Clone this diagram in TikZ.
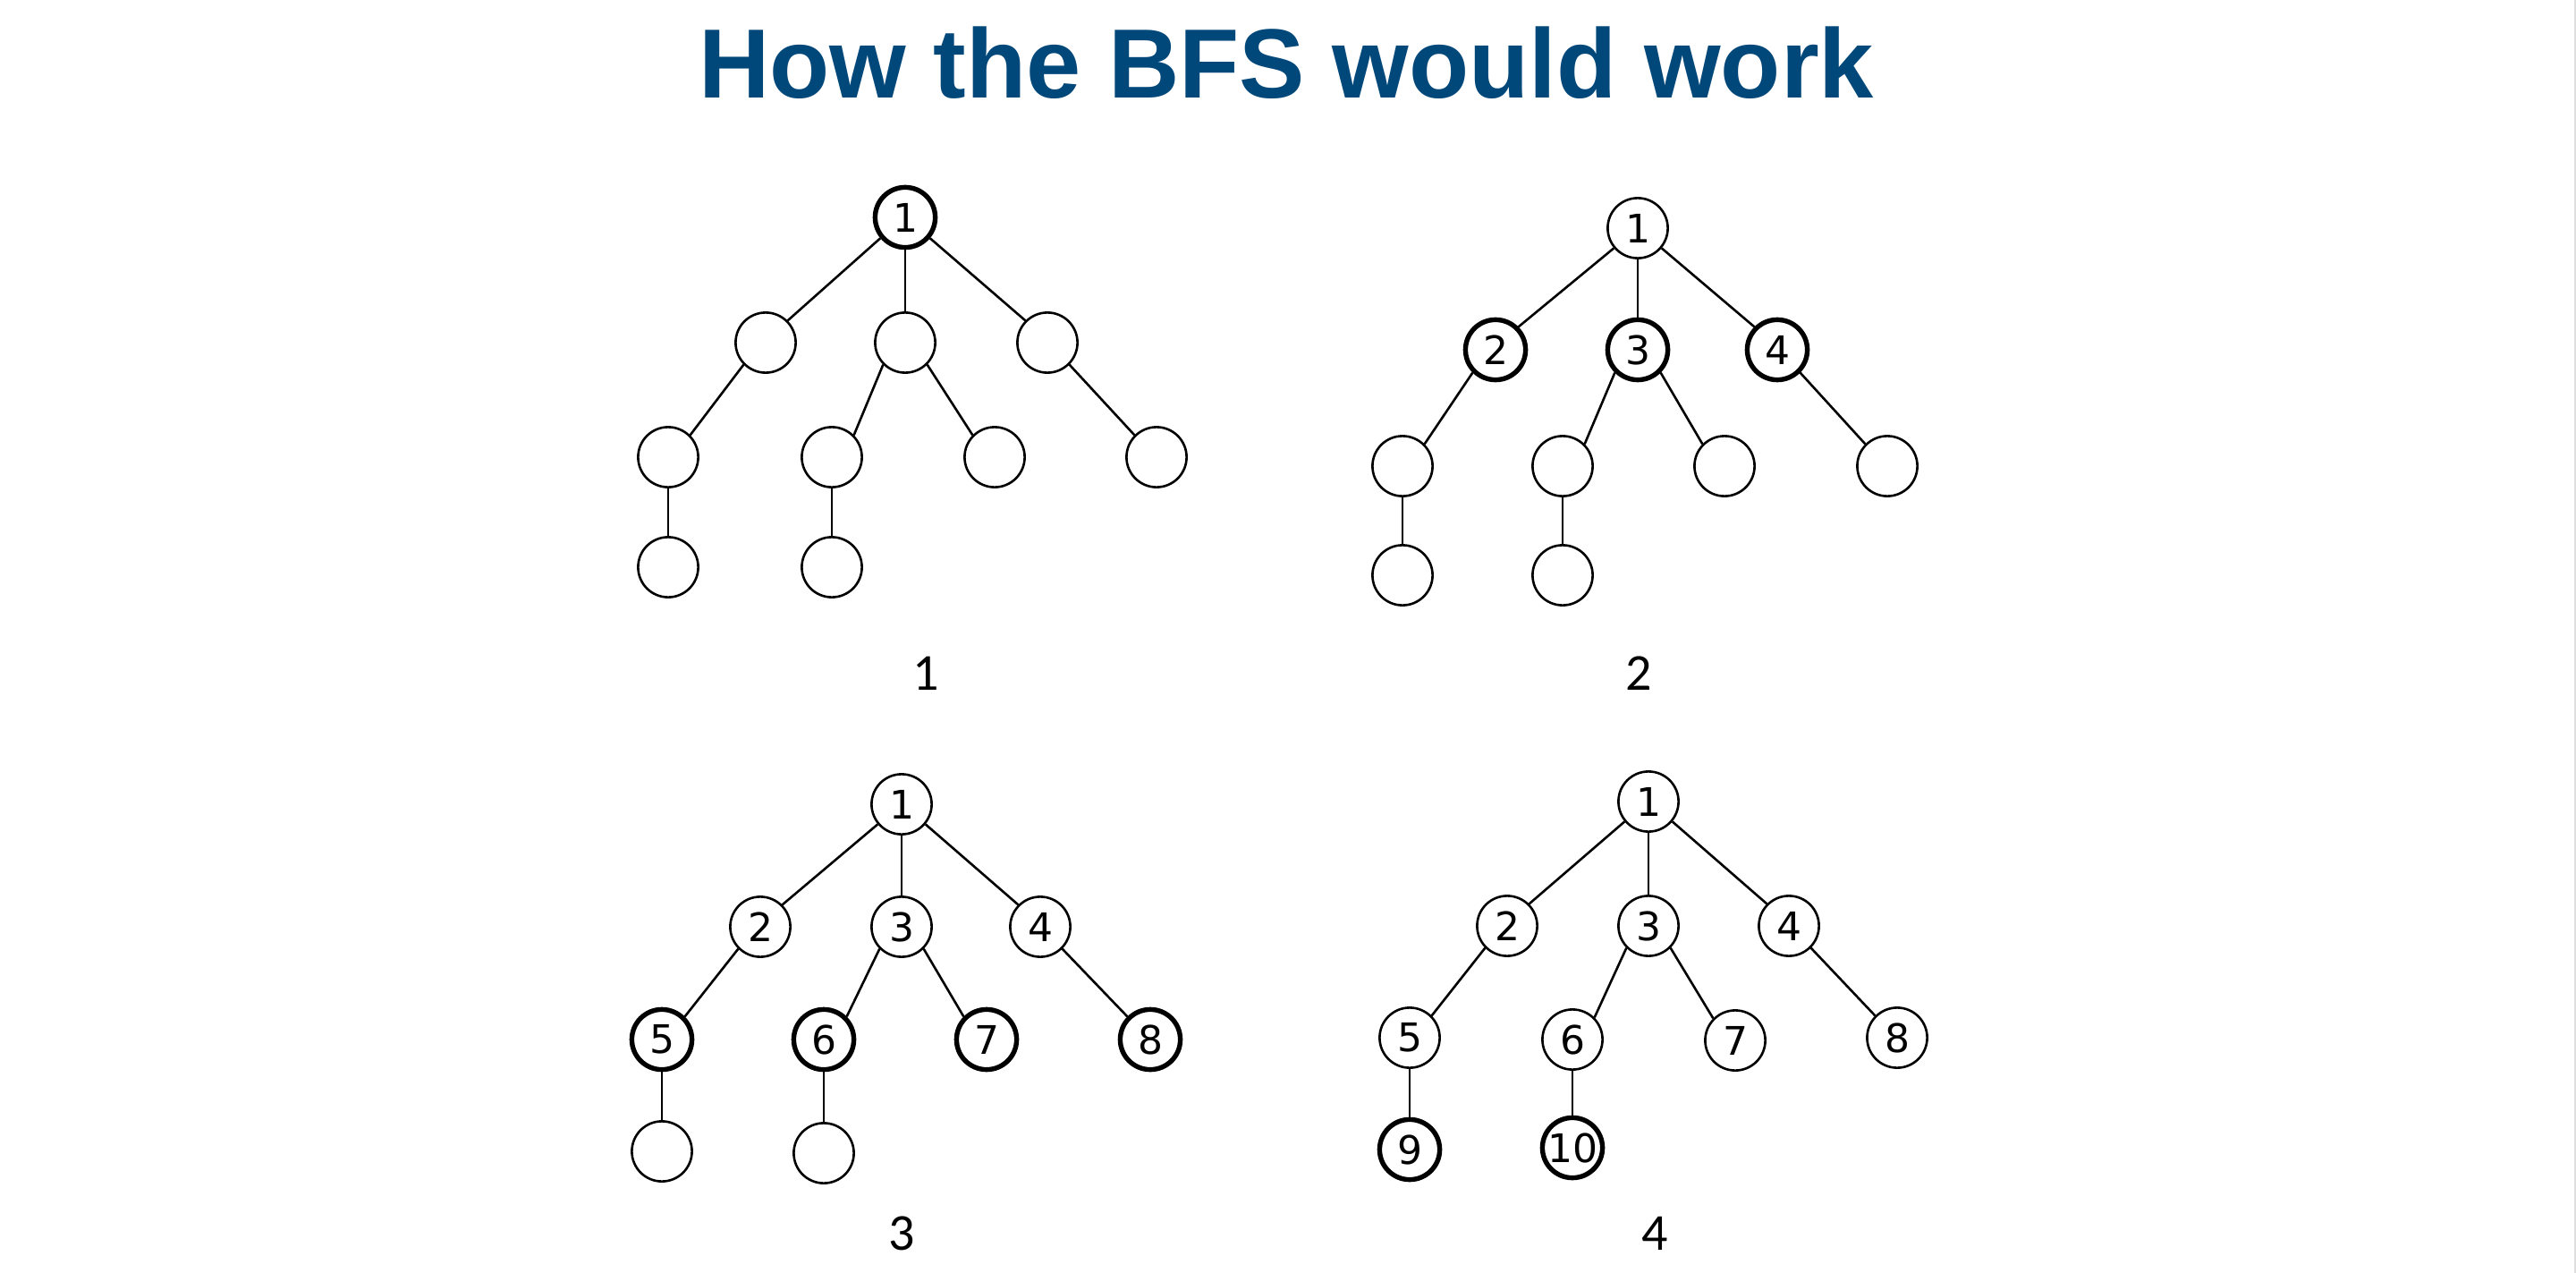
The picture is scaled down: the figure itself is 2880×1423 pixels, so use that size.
\documentclass[tikz,border=0pt]{standalone}
\usepackage{fontspec}
\newfontfamily\titlefont{Liberation Sans}
\newfontfamily\nodefont{DejaVu Sans}
\newfontfamily\capfont{Carlito}
\definecolor{titleblue}{RGB}{0,71,122}
\begin{document}
\begin{tikzpicture}[x=0.25pt,y=-0.25pt,
  vtx/.style={circle,draw,line width=0.65pt,minimum size=16.8pt,inner sep=0pt,
    font=\nodefont\fontsize{11}{13}\selectfont},
  seen/.style={vtx,line width=1.35pt},
  edge/.style={line width=0.65pt},
  caption/.style={font=\capfont\fontsize{14.5}{17}\selectfont}]
\useasboundingbox (0,0) rectangle (2880,1423);
\fill[white] (0,0) rectangle (2880,1423);
\draw[gray!25,line width=0.5pt] (2879,0) -- (2879,1423);

\node[anchor=base,text=titleblue,font=\titlefont\bfseries\fontsize{27.5}{33}\selectfont] (title) at (1438,110) {How the BFS would work};

% Tree 1
\node[seen] (A1) at (1012,243) {1};
\node[vtx] (A2) at (856,383) {};
\node[vtx] (A3) at (1012,383) {};
\node[vtx] (A4) at (1171,383) {};
\node[vtx] (A5) at (747,511) {};
\node[vtx] (A6) at (930,511) {};
\node[vtx] (A7) at (1112,511) {};
\node[vtx] (A8) at (1293,511) {};
\node[vtx] (A9) at (747,634) {};
\node[vtx] (A10) at (930,634) {};

% Tree 2
\node[vtx] (B1) at (1831,255) {1};
\node[seen] (B2) at (1672,391) {2};
\node[seen] (B3) at (1831,391) {3};
\node[seen] (B4) at (1987,391) {4};
\node[vtx] (B5) at (1568,521) {};
\node[vtx] (B6) at (1747,521) {};
\node[vtx] (B7) at (1928,521) {};
\node[vtx] (B8) at (2110,521) {};
\node[vtx] (B9) at (1568,643) {};
\node[vtx] (B10) at (1747,643) {};

% Tree 3
\node[vtx] (C1) at (1008,899) {1};
\node[vtx] (C2) at (850,1036) {2};
\node[vtx] (C3) at (1008,1036) {3};
\node[vtx] (C4) at (1163,1036) {4};
\node[seen] (C5) at (740,1162) {5};
\node[seen] (C6) at (921,1162) {6};
\node[seen] (C7) at (1103,1162) {7};
\node[seen] (C8) at (1286,1162) {8};
\node[vtx] (C9) at (740,1287) {};
\node[vtx] (C10) at (921,1289) {};

% Tree 4
\node[vtx] (D1) at (1843,896) {1};
\node[vtx] (D2) at (1685,1035) {2};
\node[vtx] (D3) at (1843,1035) {3};
\node[vtx] (D4) at (2000,1035) {4};
\node[vtx] (D5) at (1576,1160) {5};
\node[vtx] (D6) at (1758,1162) {6};
\node[vtx] (D7) at (1940,1163) {7};
\node[vtx] (D8) at (2121,1160) {8};
\node[seen] (D9) at (1576,1285) {9};
\node[seen] (D10) at (1758,1283) {10};

\foreach \t in {A,B,C,D}{
  \foreach \u/\a/\v/\b in {1/220/2/45,1/270/3/90,1/320/4/135,2/225/5/45,3/225/6/45,3/315/7/135,4/315/8/135,5/270/9/90,6/270/10/90}{
    \draw[edge] (\t\u.\a) -- (\t\v.\b);
  }
}

\node[caption] (cap1) at (1035,753) {1};
\node[caption] (cap2) at (1832,753) {2};
\node[caption] (cap3) at (1008,1379) {3};
\node[caption] (cap4) at (1850,1379) {4};
\end{tikzpicture}
\end{document}
